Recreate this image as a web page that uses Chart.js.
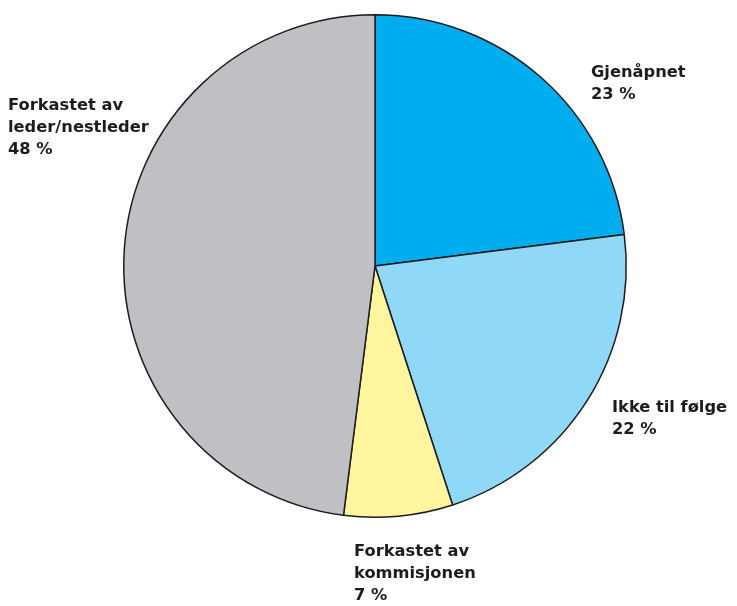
<!DOCTYPE html>
<html>
<head>
<meta charset="utf-8">
<script src="https://cdn.jsdelivr.net/npm/chart.js@4"></script>
<style>
html,body{margin:0;padding:0;background:#fff;}
#wrap{width:737px;height:606px;position:relative;}
</style>
</head>
<body>
<div id="wrap"><canvas id="c" width="737" height="606"></canvas></div>
<script>
const categories = ["Gjenåpnet", "Ikke til følge", "Forkastet av kommisjonen", "Forkastet av leder/nestleder"];
const values = [23, 22, 7, 48];
const labelLines = [["Gjenåpnet"], ["Ikke til følge"], ["Forkastet av", "kommisjonen"], ["Forkastet av", "leder/nestleder"]];
const colors = ["#00AEEF", "#8FD8F7", "#FFF59E", "#BFC0C4"];

// label anchor positions (left x, first baseline y) in canvas pixels
const labelPos = [[591, 77], [612, 412], [354, 556], [8, 110]];

const labelPlugin = {
  id: 'sliceLabels',
  afterDraw(chart) {
    const ctx = chart.ctx;
    ctx.save();
    ctx.font = 'bold 16.3px "DejaVu Sans"';
    ctx.fillStyle = '#1E1B1C';
    ctx.textAlign = 'left';
    ctx.textBaseline = 'alphabetic';
    const lh = 22;
    values.forEach((v, i) => {
      const lines = labelLines[i].concat([v + ' %']);
      const [x, y] = labelPos[i];
      lines.forEach((t, j) => ctx.fillText(t, x, y + j * lh));
    });
    ctx.restore();
  }
};

new Chart(document.getElementById('c'), {
  type: 'pie',
  data: {
    labels: categories,
    datasets: [{
      data: values,
      backgroundColor: colors,
      borderColor: '#1E1B1C',
      borderWidth: 1.5,
      borderAlign: 'center'
    }]
  },
  options: {
    responsive: false,
    animation: false,
    layout: { padding: { left: 123, right: 110, top: 14, bottom: 88 } },
    plugins: { legend: { display: false }, tooltip: { enabled: false } }
  },
  plugins: [labelPlugin]
});
</script>
</body>
</html>
